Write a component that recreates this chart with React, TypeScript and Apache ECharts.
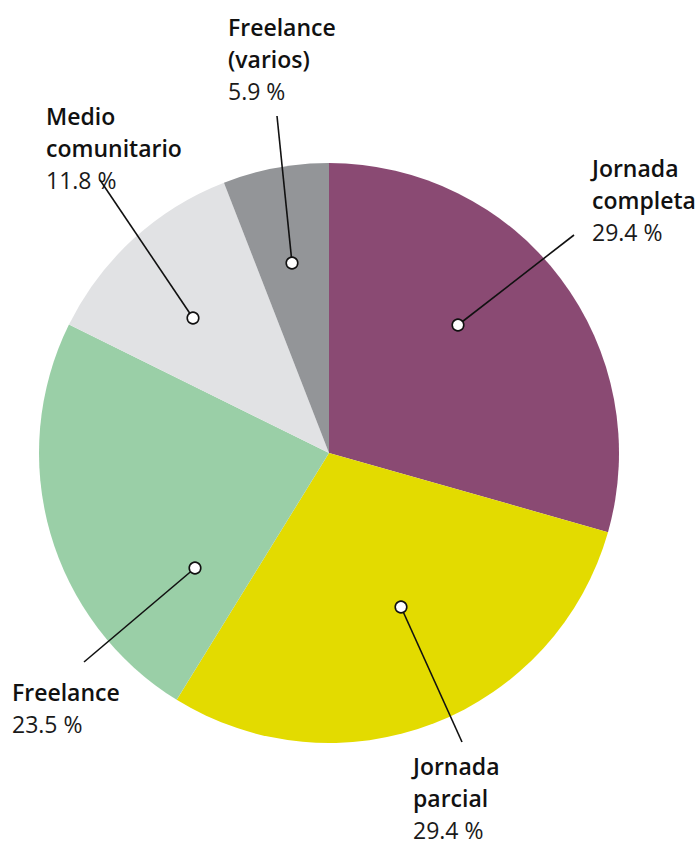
import React, { useEffect, useRef } from "react";
import * as echarts from "echarts";

const categories = ["Jornada completa", "Jornada parcial", "Freelance", "Medio comunitario", "Freelance (varios)"];
const titleLines = [["Jornada", "completa"], ["Jornada", "parcial"], ["Freelance"], ["Medio", "comunitario"], ["Freelance", "(varios)"]];
const values = [29.4, 29.4, 23.5, 11.8, 5.9];
const colors = ["#8A4A73", "#E3DB00", "#9ACFA7", "#E1E2E4", "#939598"];

// layout: label top-left, leader line end near label, and dot inside slice
const labelPos = [[592, 152], [413, 750], [12, 676], [46, 100], [228, 11]];
const lineEnd = [[574, 235], [462, 742], [84, 662], [100, 180], [277, 116]];
const dotPos = [[458, 325], [401, 607], [195, 568], [193, 318], [292, 263]];

export default function App() {
  const ref = useRef<HTMLDivElement>(null);
  useEffect(() => {
    document.body.style.margin = "0";
    const chart = echarts.init(ref.current!, null, { renderer: "svg" });
    const data = categories.map((c, i) => ({
      name: c,
      value: values[i],
      itemStyle: { color: colors[i] },
    }));
    const graphics: any[] = [];
    dotPos.forEach((d, i) => {
      graphics.push({
        type: "line",
        shape: { x1: d[0], y1: d[1], x2: lineEnd[i][0], y2: lineEnd[i][1] },
        style: { stroke: "#111", lineWidth: 1.6 },
        z: 100,
      });
    });
    dotPos.forEach((d) => {
      graphics.push({
        type: "circle",
        shape: { cx: d[0], cy: d[1], r: 5.8 },
        style: { fill: "#fff", stroke: "#111", lineWidth: 1.6 },
        z: 101,
      });
    });
    chart.setOption({
      animation: false,
      series: [
        {
          type: "pie",
          center: [329, 453],
          radius: [0, 290],
          startAngle: 90,
          clockwise: true,
          avoidLabelOverlap: false,
          data,
          label: {
            show: true,
            position: "outside",
            formatter: (p: any) => {
              const i = p.dataIndex;
              return titleLines[i].map((t) => `{b|${t}}`).join("\n") + `\n{v|${values[i].toFixed(1)} %}`;
            },
            rich: {
              b: { fontFamily: "Open Sans", fontWeight: 600, fontSize: 23, lineHeight: 32, color: "#111111" },
              v: { fontFamily: "Open Sans", fontWeight: 400, fontSize: 23, lineHeight: 32, color: "#1a1a1a" },
            },
          },
          labelLine: { show: false },
          labelLayout: (p: any) => {
            const i = p.dataIndex;
            return {
              x: labelPos[i][0],
              y: labelPos[i][1],
              align: "left",
              verticalAlign: "top",
            };
          },
          emphasis: { disabled: true },
        },
      ],
      graphic: graphics,
    });
    return () => chart.dispose();
  }, []);
  return <div ref={ref} style={{ width: 700, height: 841 }} />;
}
